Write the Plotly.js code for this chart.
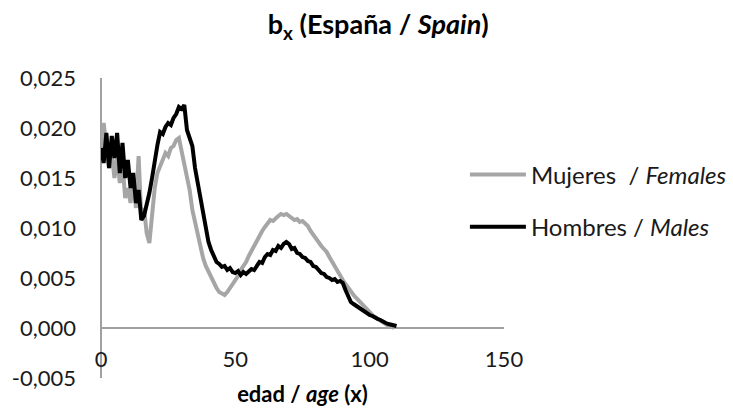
<!DOCTYPE html>
<html>
<head>
<meta charset="utf-8">
<script src="https://cdn.plot.ly/plotly-3.0.1.min.js"></script>
<style>html,body{margin:0;padding:0;background:#fff}#chart{width:733px;height:414px}</style>
</head>
<body>
<div id="chart"></div>
<script>
const agesMales = [0,1,2,3,4,5,6,7,8,9,10,11,12,13,14,15,16,17,18,19,20,21,22,23,24,25,26,27,28,29,30,31,32,33,34,35,36,37,38,39,40,41,42,43,44,45,46,47,48,49,50,51,52,53,54,55,56,57,58,59,60,61,62,63,64,65,66,67,68,69,70,71,72,73,74,75,76,77,78,79,80,81,82,83,84,85,86,87,88,89,90,91,92,93,94,95,96,97,98,99,100,101,102,103,104,105,106,107,108,109,110];
const males = [0.0180,0.0165,0.0195,0.0160,0.0192,0.0170,0.0195,0.0155,0.0185,0.0150,
0.0168,0.0140,0.0155,0.0125,0.0138,0.0108,0.0112,0.0122,0.0135,0.0150,
0.0168,0.0183,0.0196,0.0194,0.0201,0.0205,0.0203,0.0210,0.0214,0.0221,
0.0219,0.0223,0.0198,0.0190,0.0182,0.0160,0.0145,0.0128,0.0114,0.0098,
0.0086,0.0078,0.0071,0.0066,0.0064,0.0061,0.0062,0.0058,0.0060,0.0056,
0.0055,0.0057,0.0053,0.0056,0.0054,0.0057,0.0059,0.0058,0.0063,0.0066,
0.0065,0.0071,0.0074,0.0073,0.0078,0.0077,0.0082,0.0080,0.0084,0.0086,
0.0084,0.0079,0.0080,0.0075,0.0074,0.0071,0.0070,0.0067,0.0066,0.0062,
0.0061,0.0058,0.0055,0.0054,0.0051,0.0050,0.0048,0.0049,0.0046,0.0047,
0.0045,0.0038,0.0033,0.0026,0.0024,0.0022,0.0020,0.0018,0.0016,0.0015,
0.0013,0.0012,0.0010,0.0009,0.0008,0.0006,0.0005,0.0004,0.0003,0.0003,0.0002];
const agesFemales = [0,1,2,3,4,5,6,7,8,9,10,11,12,13,14,15,16,17,18,19,20,21,22,23,24,25,26,27,28,29,30,31,32,33,34,35,36,37,38,39,40,41,42,43,44,45,46,47,48,49,50,51,52,53,54,55,56,57,58,59,60,61,62,63,64,65,66,67,68,69,70,71,72,73,74,75,76,77,78,79,80,81,82,83,84,85,86,87,88,89,90,91,92,93,94,95,96,97,98,99,100,101,102,103,104,105,106,107,108,109];
const females = [0.0165,0.0205,0.0180,0.0160,0.0175,0.0150,0.0170,0.0145,0.0165,0.0130,
0.0140,0.0125,0.0150,0.0120,0.0172,0.0110,0.0120,0.0095,0.0085,0.0115,
0.0140,0.0155,0.0162,0.0170,0.0175,0.0172,0.0180,0.0182,0.0188,0.0190,
0.0178,0.0165,0.0150,0.0138,0.0118,0.0105,0.0092,0.0080,0.0070,0.0062,
0.0056,0.0050,0.0044,0.0040,0.0036,0.0035,0.0033,0.0036,0.0040,0.0044,
0.0048,0.0052,0.0058,0.0062,0.0066,0.0072,0.0077,0.0083,0.0088,0.0094,
0.0097,0.0101,0.0104,0.0108,0.0107,0.0110,0.0112,0.0114,0.0113,0.0114,
0.0112,0.0110,0.0108,0.0109,0.0106,0.0107,0.0104,0.0102,0.0097,0.0093,
0.0089,0.0085,0.0082,0.0079,0.0076,0.0071,0.0066,0.0062,0.0057,0.0052,
0.0048,0.0044,0.0040,0.0036,0.0033,0.0030,0.0027,0.0024,0.0021,0.0018,
0.0016,0.0013,0.0011,0.0009,0.0007,0.0005,0.0003,0.0002,0.0001,0.0000];
const seriesNames = ['Mujeres  / <i>Females</i>', 'Hombres / <i>Males</i>'];
const yTickVals = [-0.005, 0, 0.005, 0.010, 0.015, 0.020, 0.025];
const yTickText = ['-0,005', '0,000', '0,005', '0,010', '0,015', '0,020', '0,025'];
const xTickVals = [0, 50, 100, 150];
const xTickText = ['0', '50', '100', '150'];

const FONT = 'Lato, "Open Sans", sans-serif';
const traces = [
  {x: agesFemales, y: females, name: seriesNames[0], type: 'scatter', mode: 'lines',
   line: {color: '#a6a6a6', width: 4}, legendgroup: 'f'},
  {x: agesMales, y: males, name: seriesNames[1], type: 'scatter', mode: 'lines',
   line: {color: '#000000', width: 4}, legendgroup: 'm'}
];
const layout = {
  width: 733, height: 414,
  margin: {l: 101, r: 229, t: 78, b: 36, autoexpand: false},
  paper_bgcolor: '#fff', plot_bgcolor: '#fff',
  font: {family: FONT, color: '#1a1a1a', size: 22},
  title: {text: '<b>b<sub>x</sub> (España / <i>Spain</i>)</b>', x: 0.516, xanchor: 'center',
          y: 0.94, yanchor: 'middle', yref: 'container', font: {family: FONT, size: 27, color: '#000'}},
  xaxis: {range: [0, 150], tickvals: xTickVals, ticktext: xTickText, showgrid: false,
          zeroline: true, zerolinecolor: '#a0a0a0', zerolinewidth: 1.5, showline: false,
          anchor: 'free', position: 0.115, ticks: '', tickfont: {size: 22},
          title: {text: '<b>edad / <i>age</i> (x)</b>', font: {size: 22, color: '#000'}, standoff: 16}},
  yaxis: {range: [-0.005, 0.025], tickvals: yTickVals, ticktext: yTickText, showgrid: false,
          zeroline: true, zerolinecolor: '#a0a0a0', zerolinewidth: 1.5, showline: false,
          ticks: '', ticklabelstandoff: 24, tickfont: {size: 22}},
  showlegend: true,
  legend: {x: 0.903, xanchor: 'left', y: 0.59, yanchor: 'middle', traceorder: 'grouped',
           tracegroupgap: 18, itemwidth: 56, font: {size: 24, color: '#1a1a1a'},
           bgcolor: 'rgba(0,0,0,0)'}
};
Plotly.newPlot('chart', traces, layout, {displayModeBar: false, staticPlot: true});
</script>
</body>
</html>
